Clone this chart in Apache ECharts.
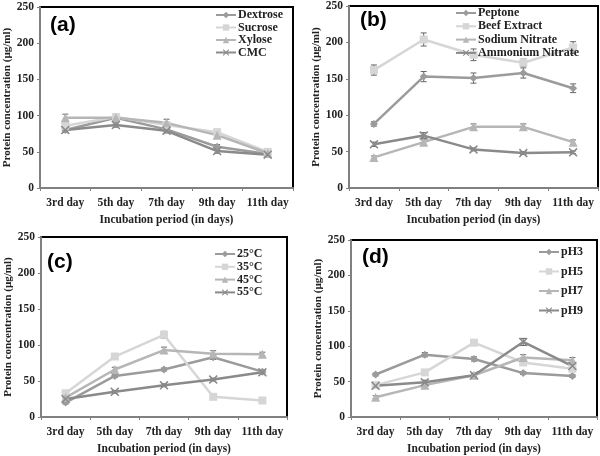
<!DOCTYPE html>
<html><head><meta charset="utf-8">
<script src="https://cdn.jsdelivr.net/npm/echarts@6/dist/echarts.min.js"></script>
<style>html,body{margin:0;padding:0;background:#fff}#c{width:600px;height:456px}</style>
</head><body><div id="c"></div>
<script>
const categories = ['3rd day','5th day','7th day','9th day','11th day'];
const yMin = 0, yMax = 250, yStep = 50;

// Panel (a)
const namesA = ['Dextrose','Sucrose','Xylose','CMC'];
const dextrose = [80, 97, 81, 57, 47];
const sucrose  = [86, 98, 87, 77, 50];
const xylose   = [97, 97, 90, 73, 48];
const cmc      = [80, 87, 79, 51, 46];
const errDextrose = [3, 3, 3, 3, 2];
const errSucrose  = [4, 4, 4, 4, 3];
const errXylose   = [5, 4, 5, 4, 3];
const errCmc      = [3, 3, 3, 3, 2];

// Panel (b)
const namesB = ['Peptone','Beef Extract','Sodium Nitrate','Ammonium Nitrate'];
const peptone         = [88, 153, 151, 158, 137];
const beefExtract     = [162, 204, 183, 172, 193];
const sodiumNitrate   = [42, 63, 84, 84, 63];
const ammoniumNitrate = [60, 72, 53, 48, 49];
const errPeptone  = [3, 7, 7, 7, 6];
const errBeef     = [7, 9, 8, 5, 8];
const errSodium   = [2, 3, 4, 4, 3];
const errAmmonium = [3, 4, 2, 2, 2];

// Panel (c)
const namesC = ['25\u00B0C','35\u00B0C','45\u00B0C','55\u00B0C'];
const t25 = [20, 57, 66, 83, 63];
const t35 = [33, 84, 114, 28, 23];
const t45 = [27, 66, 93, 88, 87];
const t55 = [25, 35, 44, 52, 62];
const errT25 = [2, 2, 2, 3, 2];
const errT35 = [2, 2, 5, 2, 2];
const errT45 = [2, 3, 4, 4, 3];
const errT55 = [2, 2, 2, 2, 2];

// Panel (d)
const namesD = ['pH3','pH5','pH7','pH9'];
const ph3 = [60, 88, 82, 62, 58];
const ph5 = [45, 63, 105, 77, 68];
const ph7 = [28, 45, 59, 84, 80];
const ph9 = [44, 49, 59, 106, 72];
const errPh3 = [2, 3, 3, 2, 2];
const errPh5 = [2, 2, 4, 3, 3];
const errPh7 = [2, 3, 3, 4, 4];
const errPh9 = [2, 3, 2, 5, 4];

const panelLabels = ['(a)','(b)','(c)','(d)'];

const panels = [
  {names: namesA, vals: [dextrose, sucrose, xylose, cmc], errs: [errDextrose, errSucrose, errXylose, errCmc]},
  {names: namesB, vals: [peptone, beefExtract, sodiumNitrate, ammoniumNitrate], errs: [errPeptone, errBeef, errSodium, errAmmonium]},
  {names: namesC, vals: [t25, t35, t45, t55], errs: [errT25, errT35, errT45, errT55]},
  {names: namesD, vals: [ph3, ph5, ph7, ph9], errs: [errPh3, errPh5, errPh7, errPh9]}
];

// layout
const grids = [
  {left: 40, top: 7, width: 253, height: 181},
  {left: 349, top: 4, width: 249, height: 184},
  {left: 41, top: 237, width: 246, height: 183},
  {left: 351, top: 240, width: 246, height: 179}
];
const legendPos = [
  {left: 215, top: 9, itemGap: 0.5},
  {left: 455, top: 7, itemGap: 1.3},
  {left: 214, top: 248, itemGap: 0.8},
  {left: 538, top: 246, itemGap: 7.5}
];
const labelPos = [
  {left: 50, top: 15}, {left: 360, top: 10}, {left: 47, top: 252}, {left: 362, top: 247}
];

const colors = ['#9b9b9b', '#d6d6d6', '#b6b6b6', '#8a8a8a'];
const xPath = 'path://M0,1.2L1.2,0L5,3.8L8.8,0L10,1.2L6.2,5L10,8.8L8.8,10L5,6.2L1.2,10L0,8.8L3.8,5Z';
const symbols = ['diamond', 'rect', 'triangle', xPath];
const symSizes = [8, 8, 9, 9];

const serif = '"Liberation Serif","Times New Roman",serif';

function errRender(params, api) {
  const c = api.coord([api.value(0), api.value(1)]);
  const hi = api.coord([api.value(0), api.value(2)]);
  const lo = api.coord([api.value(0), api.value(3)]);
  const w = 3;
  const st = {stroke: '#666', lineWidth: 1};
  return {type: 'group', children: [
    {type: 'line', shape: {x1: c[0], y1: hi[1], x2: c[0], y2: lo[1]}, style: st},
    {type: 'line', shape: {x1: c[0]-w, y1: hi[1], x2: c[0]+w, y2: hi[1]}, style: st},
    {type: 'line', shape: {x1: c[0]-w, y1: lo[1], x2: c[0]+w, y2: lo[1]}, style: st}
  ]};
}

const option = {
  backgroundColor: '#fff',
  animation: false,
  title: panelLabels.map((t, i) => ({
    text: t, left: labelPos[i].left, top: labelPos[i].top, padding: 0,
    textStyle: {fontFamily: '"Liberation Sans",Arial,sans-serif', fontWeight: 'bold', fontSize: 21, color: '#000', lineHeight: 21}
  })),
  grid: grids.map(g => Object.assign({show: true, borderColor: '#000', borderWidth: 2, backgroundColor: '#fff'}, g)),
  legend: panels.map((p, i) => ({
    data: p.names, orient: 'vertical', left: legendPos[i].left, top: legendPos[i].top,
    itemGap: legendPos[i].itemGap, itemWidth: 20, itemHeight: 8, padding: 0,
    textStyle: {fontFamily: serif, fontWeight: 'bold', fontSize: 12, color: '#222', lineHeight: 12, padding: [0, 0, 0, -3]}
  })),
  xAxis: grids.map((g, i) => ({
    type: 'category', gridIndex: i, data: categories, boundaryGap: true,
    name: 'Incubation period (in days)', nameLocation: 'middle', nameGap: 26,
    nameTextStyle: {fontFamily: serif, fontWeight: 'bold', fontSize: 11.5, color: '#222'},
    axisLine: {lineStyle: {color: '#808080', width: 2}},
    axisTick: {show: true, length: 3, lineStyle: {color: '#808080'}},
    axisLabel: {interval: 0, fontFamily: serif, fontWeight: 'bold', fontSize: 11.5, color: '#222', margin: 9},
    splitLine: {show: false}
  })),
  yAxis: grids.map((g, i) => ({
    type: 'value', gridIndex: i, min: yMin, max: yMax, interval: yStep,
    name: 'Protein concentration (\u00B5g/ml)', nameLocation: 'middle', nameGap: 27,
    nameTextStyle: {fontFamily: serif, fontWeight: 'bold', fontSize: 11, color: '#222'},
    axisLine: {show: true, lineStyle: {color: '#808080', width: 2}},
    axisTick: {show: true, length: 3, lineStyle: {color: '#808080'}},
    axisLabel: {fontFamily: serif, fontWeight: 'bold', fontSize: 11.5, color: '#222', margin: 6},
    splitLine: {show: false}
  })),
  series: []
};

panels.forEach((p, i) => {
  p.names.forEach((n, k) => {
    option.series.push({
      type: 'custom', xAxisIndex: i, yAxisIndex: i, renderItem: errRender, z: 1,
      data: p.vals[k].map((v, j) => [j, v, v + p.errs[k][j], v - p.errs[k][j]]),
      silent: true
    });
  });
  p.names.forEach((n, k) => {
    option.series.push({
      type: 'line', name: n, xAxisIndex: i, yAxisIndex: i, data: p.vals[k],
      symbol: symbols[k], symbolSize: symSizes[k], z: 2,
      lineStyle: {color: colors[k], width: 2.5},
      itemStyle: {color: colors[k], borderWidth: 0}
    });
  });
});

const chart = echarts.init(document.getElementById('c'), null, {renderer: 'canvas'});
chart.setOption(option);
</script>
</body></html>
